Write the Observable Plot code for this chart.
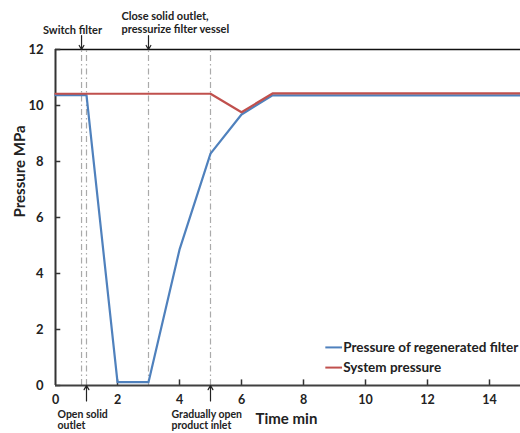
<!DOCTYPE html>
<html>
<head>
<meta charset="utf-8">
<script src="https://cdn.jsdelivr.net/npm/d3@7"></script>
<script src="https://cdn.jsdelivr.net/npm/@observablehq/plot@0.6"></script>
<style>
  html, body { margin: 0; padding: 0; background: #fff; }
  svg { display: block; }
</style>
</head>
<body>
<div id="chart"></div>
<script>
// ---- data ----
const time = [0, 1, 2, 3, 4, 5, 6, 7, 15];
const regeneratedPressure = [10.37, 10.37, 0.12, 0.12, 4.85, 8.28, 9.68, 10.36, 10.36];
const systemPressure = [10.42, 10.42, 10.42, 10.42, 10.42, 10.42, 9.76, 10.43, 10.43];
const seriesNames = ["Pressure of regenerated filter", "System pressure"];
const seriesColors = ["#4f81bd", "#c0504d"];
const eventTimes = [0.84, 1.0, 3.0, 5.0];
const topEventTimes = [0.84, 3.0];
const topEventLabels = ["Switch filter", "Close solid outlet,\npressurize filter vessel"];
const bottomEventTimes = [1.0, 5.0];
const bottomEventLabels = ["Open solid\noutlet", "Gradually open\nproduct inlet"];
const xTicks = [0, 2, 4, 6, 8, 10, 12, 14];
const yTicks = [0, 2, 4, 6, 8, 10, 12];

const rows = [];
time.forEach((t, i) => rows.push({t, p: regeneratedPressure[i], s: 0}));
time.forEach((t, i) => rows.push({t, p: systemPressure[i], s: 1}));

const FONT = "Lato, 'Open Sans', sans-serif";
const ink = "#222";

const topEvents = topEventTimes.map((t, i) => ({t, label: topEventLabels[i]}));
const bottomEvents = bottomEventTimes.map((t, i) => ({t, label: bottomEventLabels[i]}));
const legend = seriesNames.map((name, i) => ({name, color: seriesColors[i], i}));

const annoStyle = {fontSize: 11, fontWeight: "bold", fill: ink, lineHeight: 1.15};
const botStyle = {fontSize: 10.5, fontWeight: "bold", fill: ink, lineHeight: 1.1};

const chart = Plot.plot({
  width: 520,
  height: 433,
  marginLeft: 55,
  marginRight: 0,
  marginTop: 49,
  marginBottom: 48,
  style: {fontFamily: FONT, background: "#fff", overflow: "visible"},
  x: {type: "linear", domain: [0, 15]},
  y: {type: "linear", domain: [0, 12]},
  marks: [
    // event rules (dash-dot)
    Plot.ruleX(eventTimes, {y1: 0, y2: 12, stroke: "#aaa", strokeWidth: 1.2, strokeDasharray: "6,3,1.5,3"}),
    // frame lines
    Plot.ruleY([12], {stroke: "#111", strokeWidth: 1.5}),
    Plot.ruleX([0], {y1: 0, y2: 12, stroke: "#333", strokeWidth: 2}),
    // inward ticks
    Plot.ruleY(yTicks, {x1: 0, x2: 0.17, stroke: "#333", strokeWidth: 1.5}),
    Plot.ruleX(xTicks.filter(d => d > 0), {y1: 0, y2: 0.2, stroke: "#333", strokeWidth: 1.5}),
    // axes labels
    Plot.axisX(xTicks, {tickSize: 0, tickPadding: 10, fontSize: 12.5, fontWeight: "bold", fill: ink, label: null}),
    Plot.axisY(yTicks, {tickSize: 0, tickPadding: 12, fontSize: 13, fontWeight: "bold", fill: ink, label: null}),
    Plot.text(["Time min"], {frameAnchor: "bottom", x: 7.45, dy: 38, fontSize: 15, fontWeight: "bold", fill: ink}),
    Plot.text(["Pressure MPa"], {frameAnchor: "left", dx: -35, rotate: -90, fontSize: 15, fontWeight: "bold", fill: ink}),
    // series lines
    Plot.line(rows, {x: "t", y: "p", z: "s", stroke: d => seriesColors[d.s], strokeWidth: 2.2}),
    // bottom axis line
    Plot.ruleY([0], {stroke: "#404040", strokeWidth: 2.2}),
    // top annotations
    Plot.text(topEvents.slice(0, 1), {x: "t", text: "label", frameAnchor: "top", dy: -24, dx: -9, textAnchor: "middle", ...annoStyle}),
    Plot.text(topEvents.slice(1), {x: "t", text: "label", frameAnchor: "top", lineAnchor: "bottom", dy: -17, dx: -27, textAnchor: "start", ...annoStyle}),
    Plot.arrow(topEvents, {x1: "t", x2: "t", y1: 12.5, y2: 12, stroke: ink, strokeWidth: 1.2, headLength: 6}),
    // bottom annotations
    Plot.text(bottomEvents.slice(0, 1), {x: "t", text: "label", frameAnchor: "bottom", lineAnchor: "top", dy: 24, dx: -29, textAnchor: "start", ...botStyle}),
    Plot.text(bottomEvents.slice(1), {x: "t", text: "label", frameAnchor: "bottom", lineAnchor: "top", dy: 24, dx: -39, textAnchor: "start", ...botStyle}),
    Plot.arrow(bottomEvents, {x1: "t", x2: "t", y1: -0.55, y2: 0, stroke: ink, strokeWidth: 1.2, headLength: 6}),
    // legend
    Plot.ruleY(legend, {x1: 8.72, x2: 9.26, y: d => 1.36 - d.i * 0.72, stroke: d => d.color, strokeWidth: 2}),
    Plot.text(legend, {x: 9.28, y: d => 1.36 - d.i * 0.72, text: "name", textAnchor: "start", fontSize: 13.5, fontWeight: "bold", fill: ink})
  ]
});
document.getElementById("chart").appendChild(chart);
</script>
</body>
</html>
